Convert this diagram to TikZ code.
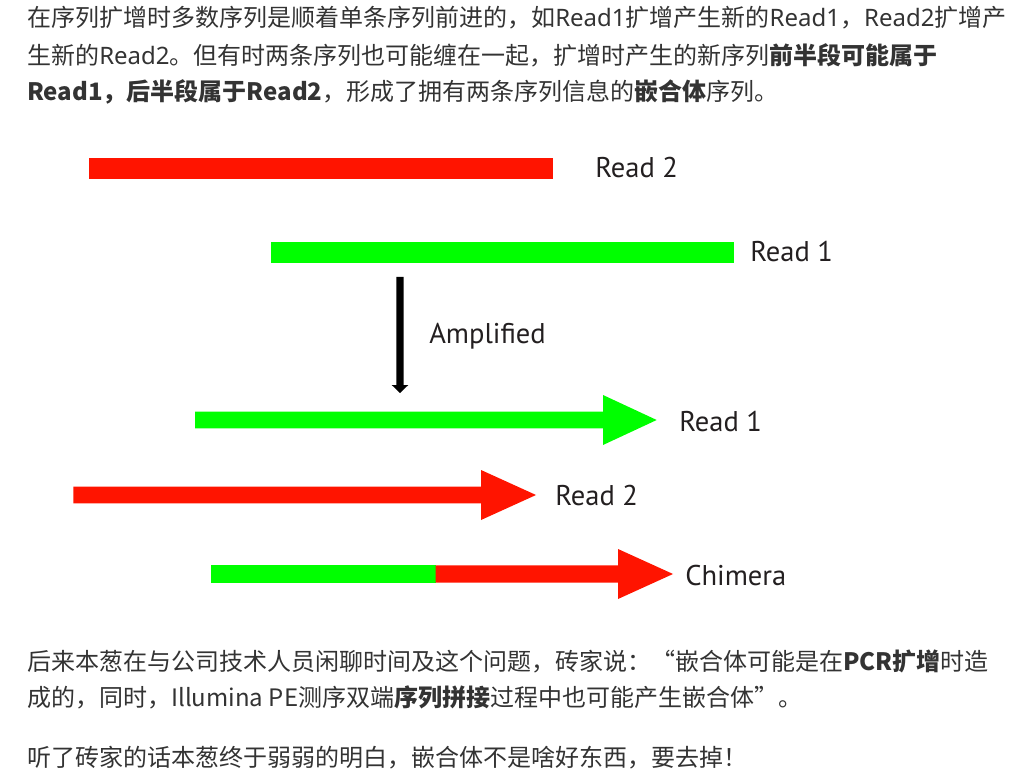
\documentclass[tikz,border=0pt]{standalone}
\usepackage{fontspec}
\usetikzlibrary{calc}
\setmainfont{Noto Sans}
\newfontfamily\cjkf{Noto Sans CJK SC}
\newfontfamily\latf{Noto Sans}
\newfontfamily\labf{PT Sans}
\newcommand\la[1]{{\latf #1}}
\definecolor{txtc}{HTML}{333333}
\definecolor{rdc}{RGB}{255,20,0}
\definecolor{gnc}{RGB}{0,255,0}
\definecolor{lblc}{HTML}{231F20}
\begin{document}
\begin{tikzpicture}[x=0.75pt,y=-0.75pt,
  body/.style={anchor=base west,inner sep=0pt,text=txtc,font=\cjkf\fontsize{18pt}{24pt}\selectfont},
  labeltext/.style={anchor=base west,inner sep=0pt,text=lblc,font=\labf\fontsize{21.4pt}{24pt}\selectfont},
  redfill/.style={fill=rdc,draw=none},
  greenfill/.style={fill=gnc,draw=none}]
\path[use as bounding box] (0,0) rectangle (1014,777);

% paragraph text
\node[body] (t1) at (27,27) {在序列扩增时多数序列是顺着单条序列前进的，如\la{Read1}扩增产生新的\la{Read1}，\la{Read2}扩增产};
\node[body] (t2) at (27,65) {生新的\la{Read2}。但有时两条序列也可能缠在一起，扩增时产生的新序列\textbf{前半段可能属于}};
\node[body] (t3) at (27,101) {\textbf{Read1，后半段属于Read2}，形成了拥有两条序列信息的\textbf{嵌合体}序列。};
\node[body] (t4) at (27,670) {后来本葱在与公司技术人员闲聊时间及这个问题，砖家说：“嵌合体可能是在\textbf{PCR扩增}时造};
\node[body] (t5) at (27,706) {成的，同时，Illumina PE测序双端\textbf{序列拼接}过程中也可能产生嵌合体”。};
\node[body] (t6) at (27,766) {听了砖家的话本葱终于弱弱的明白，嵌合体不是啥好东西，要去掉！};

% top bars
\fill[redfill] (89.3,158.3) rectangle (553.3,179);
\node[labeltext] (r2a) at (595,178) {Read 2};
\fill[greenfill] (270.7,242.3) rectangle (734,263.3);
\node[labeltext] (r1a) at (750,262) {Read 1};

% amplified arrow
\coordinate (ampTop) at (400,277);
\coordinate (ampTip) at (400,393);
\fill[black] ($(ampTop)+(-3.6,0)$) -- ($(ampTop)+(3.6,0)$) -- (403.6,385) -- (408.3,385) -- (ampTip) -- (391.7,385) -- (396.4,385) -- cycle;
\node[labeltext] (amp) at (429,344) {Amplified};

% amplified products
\fill[greenfill] (195,411.7) -- (603,411.7) -- (603,395) -- (656.7,420) -- (603,445) -- (603,428.3) -- (195,428.3) -- cycle;
\node[labeltext] (r1b) at (679,431) {Read 1};

\fill[redfill] (73.3,486.7) -- (481,486.7) -- (481,470) -- (536,495) -- (481,520) -- (481,503.3) -- (73.3,503.3) -- cycle;
\node[labeltext] (r2b) at (555,505) {Read 2};

\fill[greenfill] (210.7,565.3) rectangle (436,582.7);
\fill[redfill] (435.7,565.3) -- (618,565.3) -- (618,549) -- (673,574) -- (618,599) -- (618,582.7) -- (435.7,582.7) -- cycle;
\node[labeltext] (chim) at (685,585) {Chimera};
\end{tikzpicture}
\end{document}
